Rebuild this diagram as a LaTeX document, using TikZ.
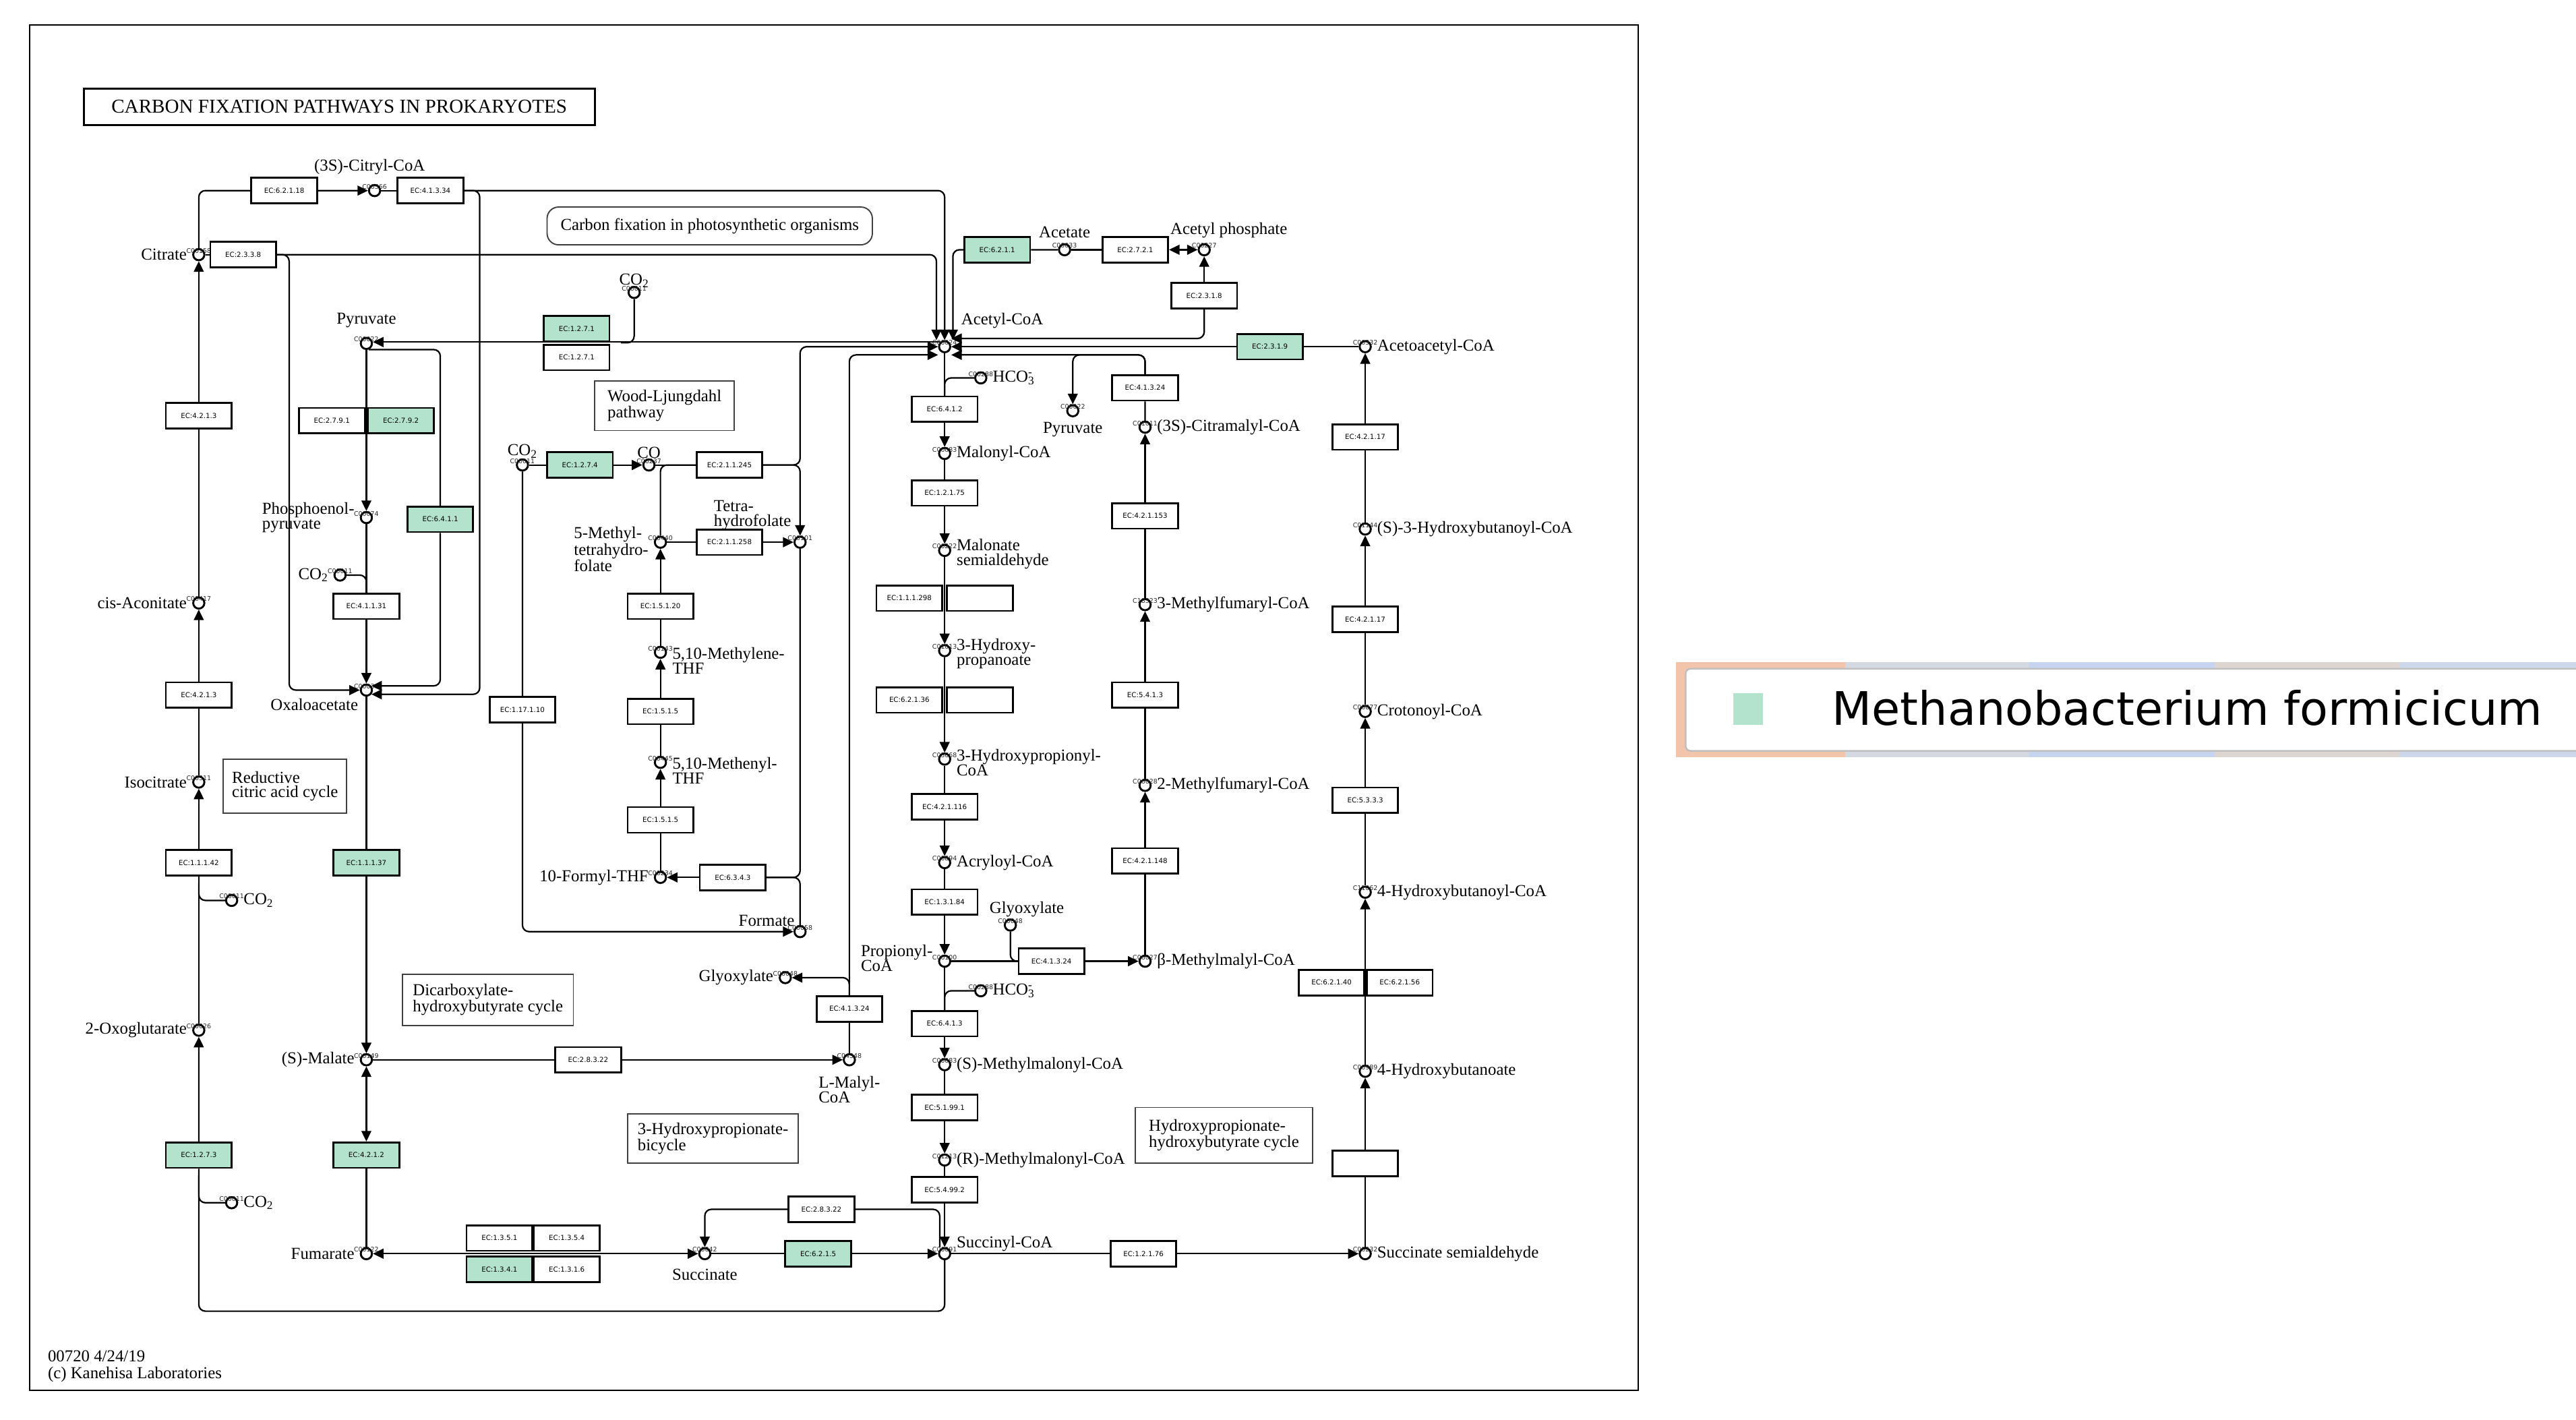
\documentclass[tikz,border=0pt]{standalone}
\usepackage{fontspec}
\setmainfont{Liberation Serif}
\newfontfamily\ecfont{DejaVu Sans}
\usetikzlibrary{arrows.meta}
\definecolor{hitgreen}{RGB}{179,227,205}
\definecolor{lorange}{RGB}{242,196,172}
\definecolor{lgray}{RGB}{212,216,224}
\definecolor{lblue}{RGB}{198,212,240}
\definecolor{lbeige}{RGB}{221,214,208}
\definecolor{lsteel}{RGB}{205,215,234}

\begin{document}
\begin{tikzpicture}[x=0.5mm,y=-0.5mm,
    >={Triangle[length=3.2mm,width=3mm]},
    rxn/.style={line width=1.3pt,rounded corners=2mm},
    cno/.style={font=\ecfont\fontsize{5.5}{6}\selectfont,text=black!85,inner sep=0pt,label distance=-1.6mm},
    cpd/.style={circle,draw,line width=1.7pt,fill=white,inner sep=0pt,minimum size=3.4mm,label={[cno]above:#1}},
    lbl/.style={font=\fontsize{14.5}{13}\selectfont,align=left,inner sep=0pt,label distance=1.6mm},
    enz/.style={draw,line width=1.6pt,fill=white,inner sep=0pt,minimum width=20mm,minimum height=7.75mm,font=\ecfont\fontsize{6}{7}\selectfont},
    hit/.style={enz,fill=hitgreen},
    mapbox/.style={draw=black!75,line width=1.1pt,align=left,inner sep=0pt,font=\fontsize{14.5}{12.5}\selectfont}]
    \path[use as bounding box,fill=white] (0,0) rectangle (1568,864);
    \draw[line width=1.2pt] (18,15) rectangle (997,846);
    \node[draw,line width=1.6pt,minimum width=155.5mm,minimum height=11mm,font=\fontsize{17}{20}\selectfont] (title) at (206.5,65) {CARBON FIXATION PATHWAYS IN PROKARYOTES};
    \node[lbl,anchor=north west,font=\fontsize{14.5}{14.2}\selectfont] (copy) at (29,822) {00720 4/24/19\\(c) Kanehisa Laboratories};

    \node[mapbox,rounded corners=3.5mm,minimum width=99mm,minimum height=11.5mm] (mphoto) at (432,137.5) {Carbon fixation in photosynthetic organisms};
    \node[mapbox,minimum width=42.5mm,minimum height=15mm] (mwl) at (404.5,247) {Wood-Ljungdahl\\pathway};
    \node[mapbox,minimum width=37.5mm,minimum height=16.5mm] (mrtca) at (173.5,478.5) {Reductive\\citric acid cycle};
    \node[mapbox,minimum width=52mm,minimum height=15.5mm] (mdc) at (297,608.5) {Dicarboxylate-\\hydroxybutyrate cycle};
    \node[mapbox,minimum width=52mm,minimum height=15mm] (mhpb) at (434,693) {3-Hydroxypropionate-\\bicycle};
    \node[mapbox,minimum width=54mm,minimum height=17mm] (mhphb) at (745,691) {Hydroxypropionate-\\hydroxybutyrate cycle};

    \node[cpd=C00158,label={[lbl]left:Citrate}] (cit) at (121,155) {};
    \node[cpd=C00566,label={[lbl,label distance=2.8mm,xshift=-1.5mm]above:(3S)-Citryl-CoA}] (ccoa) at (228,116) {};
    \node[cpd=C00417,label={[lbl]left:cis-Aconitate}] (cacn) at (121,367) {};
    \node[cpd=C00311,label={[lbl]left:Isocitrate}] (icit) at (121,476) {};
    \node[cpd=C00026,label={[lbl]left:2-Oxoglutarate}] (oxg) at (121,627) {};
    \node[cpd=C00011,label={[lbl]right:CO\textsubscript{2}}] (co2a) at (141,548) {};
    \node[cpd=C00011,label={[lbl]right:CO\textsubscript{2}}] (co2b) at (141,732) {};
    \node[cpd=C00022,label={[lbl,label distance=2.8mm]above:Pyruvate}] (pyr) at (223,209) {};
    \node[cpd=C00074,label={[lbl]left:Phosphoenol-\\pyruvate}] (pep) at (223,315) {};
    \node[cpd=C00011,label={[lbl]left:CO\textsubscript{2}}] (co2c) at (207,350) {};
    \node[cpd=C00036,label={[lbl,label distance=1.5mm]below left:Oxaloacetate}] (oaa) at (223,420) {};
    \node[cpd=C00149,label={[lbl]left:(S)-Malate}] (mal) at (223,645) {};
    \node[cpd=C00122,label={[lbl]left:Fumarate}] (fum) at (223,763) {};
    \node[cpd=C00042,label={[lbl,label distance=2.5mm]below:Succinate}] (suc) at (429,763) {};
    \node[cpd=C00091,label={[lbl,yshift=3mm]right:Succinyl-CoA}] (succoa) at (575,763) {};
    \node[cpd=C00232,label={[lbl]right:Succinate semialdehyde}] (ssa) at (831,763) {};
    \node[cpd=C00989,label={[lbl]right:4-Hydroxybutanoate}] (hb) at (831,652) {};
    \node[cpd=C11062,label={[lbl]right:4-Hydroxybutanoyl-CoA}] (hbcoa) at (831,543) {};
    \node[cpd=C00877,label={[lbl]right:Crotonoyl-CoA}] (crot) at (831,433) {};
    \node[cpd=C01144,label={[lbl]right:(S)-3-Hydroxybutanoyl-CoA}] (hbut) at (831,322) {};
    \node[cpd=C00332,label={[lbl]right:Acetoacetyl-CoA}] (aacoa) at (831,211) {};
    \node[cpd=C00024,label={[lbl,yshift=8mm,label distance=3mm]right:Acetyl-CoA}] (acoa) at (575,211) {};
    \node[cpd=C00033,label={[lbl,label distance=1.5mm]above:Acetate}] (acet) at (648,152) {};
    \node[cpd=C00227,label={[lbl,label distance=1.5mm,xshift=7.5mm]above:Acetyl phosphate}] (acp) at (733,152) {};
    \node[cpd=C00288,label={[lbl]right:HCO\rlap{\textsubscript{3}}\textsuperscript{-}}] (hco3a) at (597,230) {};
    \node[cpd=C00083,label={[lbl]right:Malonyl-CoA}] (malcoa) at (575,276) {};
    \node[cpd=C00222,label={[lbl,yshift=-1mm]right:Malonate\\semialdehyde}] (msa) at (575,335) {};
    \node[cpd=C01013,label={[lbl,yshift=-1mm]right:3-Hydroxy-\\propanoate}] (hp) at (575,396) {};
    \node[cpd=C05668,label={[lbl,yshift=-1mm]right:3-Hydroxypropionyl-\\CoA}] (hpcoa) at (575,462) {};
    \node[cpd=C00894,label={[lbl]right:Acryloyl-CoA}] (acrcoa) at (575,525) {};
    \node[cpd=C00100,label={[lbl,yshift=1mm]left:Propionyl-\\CoA}] (pcoa) at (575,585) {};
    \node[cpd=C00288,label={[lbl]right:HCO\rlap{\textsubscript{3}}\textsuperscript{-}}] (hco3b) at (597,603) {};
    \node[cpd=C00683,label={[lbl]right:(S)-Methylmalonyl-CoA}] (smm) at (575,648) {};
    \node[cpd=C01213,label={[lbl]right:(R)-Methylmalonyl-CoA}] (rmm) at (575,706) {};
    \node[cpd=C00048,label={[lbl,label distance=0.5mm,xshift=5mm]above:Glyoxylate}] (glxa) at (615,563) {};
    \node[cpd=C06027,label={[lbl]right:β-Methylmalyl-CoA}] (bmm) at (697,585) {};
    \node[cpd=C06028,label={[lbl]right:2-Methylfumaryl-CoA}] (mfum) at (697,478) {};
    \node[cpd=C18323,label={[lbl]right:3-Methylfumaryl-CoA}] (mfum3) at (697,368) {};
    \node[cpd=C01011,label={[lbl]right:(3S)-Citramalyl-CoA}] (cmal) at (697,260) {};
    \node[cpd=C00022,label={[lbl,label distance=1.5mm]below:Pyruvate}] (pyrb) at (653,250) {};
    \node[cpd=C00011,label={[lbl,label distance=-0.5mm]above:CO\textsubscript{2}}] (co2d) at (386,178) {};
    \node[cpd=C00011,label={[lbl,label distance=0mm]above:CO\textsubscript{2}}] (co2e) at (318,283) {};
    \node[cpd=C00237,label={[lbl,label distance=0mm]above:CO}] (co) at (395,283) {};
    \node[cpd=C00440,label={[lbl,yshift=-2.2mm]left:5-Methyl-\\tetrahydro-\\folate}] (mthf) at (402,330) {};
    \node[cpd=C00101,label={[lbl,label distance=3.2mm,xshift=1mm]above left:Tetra-\\hydrofolate}] (thf) at (487,330) {};
    \node[cpd=C00143,label={[lbl,yshift=-2.5mm]right:{5,10-Methylene-\\THF}}] (methf) at (402,397) {};
    \node[cpd=C00445,label={[lbl,yshift=-2.5mm]right:{5,10-Methenyl-\\THF}}] (menthf) at (402,464) {};
    \node[cpd=C00234,label={[lbl]left:10-Formyl-THF}] (fthf) at (402,534) {};
    \node[cpd=C00058,label={[lbl,label distance=0.3mm]above left:Formate}] (form) at (487,567) {};
    \node[cpd=C00048,label={[lbl]left:Glyoxylate}] (glxb) at (478,595) {};
    \node[cpd=C04348,label={[lbl,label distance=3mm]below:L-Malyl-\\CoA}] (lmcoa) at (517,645) {};

    \node[enz] (e62118) at (173,116) {EC:6.2.1.18};
    \node[enz] (e41334) at (262,116) {EC:4.1.3.34};
    \node[enz] (e2338) at (148,155) {EC:2.3.3.8};
    \node[enz] (e4213a) at (121,253) {EC:4.2.1.3};
    \node[enz] (e4213b) at (121,423) {EC:4.2.1.3};
    \node[enz] (e11142) at (121,525) {EC:1.1.1.42};
    \node[hit] (e1273) at (121,703) {EC:1.2.7.3};
    \node[hit] (e1271a) at (351,200) {EC:1.2.7.1};
    \node[enz] (e1271b) at (351,217.5) {EC:1.2.7.1};
    \node[enz] (e2791) at (202,256) {EC:2.7.9.1};
    \node[hit] (e2792) at (244,256) {EC:2.7.9.2};
    \node[hit] (e6411) at (268,316) {EC:6.4.1.1};
    \node[enz] (e41131) at (223,369) {EC:4.1.1.31};
    \node[hit] (e11137) at (223,525) {EC:1.1.1.37};
    \node[hit] (e4212) at (223,703) {EC:4.2.1.2};
    \node[enz] (e28322a) at (358,645) {EC:2.8.3.22};
    \node[enz] (e1351) at (304,753.5) {EC:1.3.5.1};
    \node[enz] (e1354) at (345,753.5) {EC:1.3.5.4};
    \node[hit] (e1341) at (304,772.5) {EC:1.3.4.1};
    \node[enz] (e1316) at (345,772.5) {EC:1.3.1.6};
    \node[hit] (e6215) at (498,763) {EC:6.2.1.5};
    \node[enz] (e28322b) at (500,736) {EC:2.8.3.22};
    \node[enz] (e12176) at (696,763) {EC:1.2.1.76};
    \node[enz] (e4hb) at (831,708) {};
    \node[enz] (e62140) at (810.5,598) {EC:6.2.1.40};
    \node[enz] (e62156) at (852,598) {EC:6.2.1.56};
    \node[enz] (e5333) at (831,487) {EC:5.3.3.3};
    \node[enz] (e42117a) at (831,377) {EC:4.2.1.17};
    \node[enz] (e42117b) at (831,266) {EC:4.2.1.17};
    \node[hit] (e2319) at (773,211) {EC:2.3.1.9};
    \node[enz] (e2318) at (733,180) {EC:2.3.1.8};
    \node[enz] (e2721) at (691,152) {EC:2.7.2.1};
    \node[hit] (e6211) at (607,152) {EC:6.2.1.1};
    \node[enz] (e6412) at (575,249) {EC:6.4.1.2};
    \node[enz] (e12175) at (575,300) {EC:1.2.1.75};
    \node[enz] (e111298) at (553.5,364) {EC:1.1.1.298};
    \node[enz] (e111298x) at (596.5,364) {};
    \node[enz] (e62136) at (553.5,426) {EC:6.2.1.36};
    \node[enz] (e62136x) at (596.5,426) {};
    \node[enz] (e421116) at (575,491) {EC:4.2.1.116};
    \node[enz] (e13184) at (575,549) {EC:1.3.1.84};
    \node[enz] (e6413) at (575,623) {EC:6.4.1.3};
    \node[enz] (e51991) at (575,674) {EC:5.1.99.1};
    \node[enz] (e54992) at (575,724) {EC:5.4.99.2};
    \node[enz] (e41324a) at (697,236) {EC:4.1.3.24};
    \node[enz] (e421153) at (697,314) {EC:4.2.1.153};
    \node[enz] (e5413) at (697,423) {EC:5.4.1.3};
    \node[enz] (e421148) at (697,524) {EC:4.2.1.148};
    \node[enz] (e41324b) at (640,585) {EC:4.1.3.24};
    \node[enz] (e41324c) at (517,614) {EC:4.1.3.24};
    \node[hit] (e1274) at (353,283) {EC:1.2.7.4};
    \node[enz] (e211245) at (444,283) {EC:2.1.1.245};
    \node[enz] (e211258) at (444,330) {EC:2.1.1.258};
    \node[enz] (e15120) at (402,369) {EC:1.5.1.20};
    \node[enz] (e1515a) at (402,433) {EC:1.5.1.5};
    \node[enz] (e1515b) at (402,499) {EC:1.5.1.5};
    \node[enz] (e6343) at (446,534) {EC:6.3.4.3};
    \node[enz] (e117110) at (318,432) {EC:1.17.1.10};

    \coordinate (loopsw) at (121,798);
    \coordinate (xr) at (292,300);
    \coordinate (xl) at (176,300);
    \coordinate (co2dj) at (378,208.6);
    \coordinate (wlx) at (487,260);
    \coordinate (pyrj) at (653,216);

    \draw[rxn,->] (succoa) |- (loopsw) -- (e1273) -- (oxg);
    \draw[rxn] (e1273.south) ++(0,4) |- (co2b);
    \draw[rxn,->] (oxg) -- (e11142) -- (icit);
    \draw[rxn] (e11142.south) ++(0,4) |- (co2a);
    \draw[rxn,->] (icit) -- (e4213b) -- (cacn);
    \draw[rxn,->] (cacn) -- (e4213a) -- (cit);
    \draw[rxn,->] (cit) |- (e62118) -- (ccoa);
    \draw[rxn] (ccoa) -- (e41334);
    \draw[rxn,->] (e41334) -| (acoa.north);
    \draw[rxn,->] (e41334) -| (xr) |- (oaa.-40);
    \draw[rxn] (cit) -- (e2338);
    \draw[rxn,->] (e2338) -| ([xshift=-2.5mm]acoa.north);
    \draw[rxn,->] (e2338) -| (xl) |- (oaa.west);

    \draw[rxn,->] (acoa.north west) -- (acoa.north west -| pyr.east);
    \draw[rxn] (co2d) |- (co2dj);
    \draw[rxn,->] (pyr) -- (pep);
    \draw[rxn,->] (pyr.-70) -| (e6411) |- (oaa.40);
    \draw[rxn,->] (pep) -- (e41131) -- (oaa);
    \draw[rxn] (co2c) -| (e41131);
    \draw[rxn,->] (oaa) -- (e11137) -- (mal);
    \draw[rxn,<->] (fum) -- (e4212) -- (mal);
    \draw[rxn,<->] (fum) -- (suc);
    \draw[rxn,->] (suc) -- (e6215) -- (succoa);
    \draw[rxn,->] ([xshift=-1.5mm]succoa.north) |- (e28322b) -| (suc);
    \draw[rxn,->] (mal) -- (e28322a) -- (lmcoa);
    \draw[rxn,->] (lmcoa) -- (e41324c) |- ([yshift=-2.5mm]acoa.west);
    \draw[rxn,->] (e41324c) |- (glxb);
    \draw[rxn,->] (succoa) -- (e12176) -- (ssa);

    \draw[rxn,->] (co2e) -- (e1274) -- (co);
    \draw[rxn] (co) -- (e211245);
    \draw[rxn] (mthf) |- (e211245);
    \draw[rxn,->] (e211245) -| (thf);
    \draw[rxn,->] (e211245) -| (wlx) |- (acoa.west);
    \draw[rxn,->] (mthf) -- (e211258) -- (thf);
    \draw[rxn,->] (methf) -- (e15120) -- (mthf);
    \draw[rxn,->] (menthf) -- (e1515a) -- (methf);
    \draw[rxn,->] (fthf) -- (e1515b) -- (menthf);
    \draw[rxn] (thf) |- (e6343);
    \draw[rxn] (form) |- (e6343);
    \draw[rxn,->] (e6343) -- (fthf);
    \draw[rxn,->] (co2e) -- (e117110) |- (form);

    \draw[rxn,->] (acoa) -- (e6412) -- (malcoa);
    \draw[rxn] (hco3a) -| (e6412);
    \draw[rxn,->] (malcoa) -- (e12175) -- (msa);
    \draw[rxn,->] (msa) -- (hp);
    \draw[rxn,->] (hp) -- (hpcoa);
    \draw[rxn,->] (hpcoa) -- (e421116) -- (acrcoa);
    \draw[rxn,->] (acrcoa) -- (e13184) -- (pcoa);
    \draw[rxn,->] (pcoa) -- (e6413) -- (smm);
    \draw[rxn] (hco3b) -| (e6413);
    \draw[rxn,->] (smm) -- (e51991) -- (rmm);
    \draw[rxn,->] (rmm) -- (e54992) -- (succoa);
    \draw[rxn,->] (pcoa) -- (e41324b) -- (bmm);
    \draw[rxn] (glxa) |- (e41324b);
    \draw[rxn,->] (bmm) -- (e421148) -- (mfum);
    \draw[rxn,->] (mfum) -- (e5413) -- (mfum3);
    \draw[rxn,->] (mfum3) -- (e421153) -- (cmal);
    \draw[rxn,->] (cmal) -- (e41324a) |- ([yshift=-2.5mm]acoa.east);
    \draw[rxn,->] (e41324a) |- (pyrj) -- (pyrb);

    \draw[rxn,->] (acet) -- (e6211) -| ([xshift=2.5mm]acoa.north);
    \draw[rxn,<->] (acet) -- (e2721) -- (acp);
    \draw[rxn,<-] ([yshift=2.5mm]acoa.east) -| (e2318);
    \draw[rxn,->] (e2318) -- (acp);
    \draw[rxn,->] (aacoa) -- (e2319) -- (acoa);
    \draw[rxn,->] (ssa) -- (e4hb) -- (hb);
    \draw[rxn,->] (hb) -- (hbcoa);
    \draw[rxn,->] (hbcoa) -- (e5333) -- (crot);
    \draw[rxn,->] (crot) -- (e42117a) -- (hbut);
    \draw[rxn,->] (hbut) -- (e42117b) -- (aacoa);

    \fill[lorange] (1020,403) rectangle (1123,461);
    \fill[lgray] (1123,403) rectangle (1235,461);
    \fill[lblue] (1235,403) rectangle (1348,461);
    \fill[lbeige] (1348,403) rectangle (1461,461);
    \fill[lsteel] (1461,403) rectangle (1568,461);
    \draw[draw=black!25,line width=1.5pt,fill=white,rounded corners=1.5mm] (1026,407) rectangle (1580,457);
    \fill[hitgreen] (1055,422) rectangle (1073,441);
    \node[font=\ecfont\fontsize{40}{48}\selectfont,anchor=west,inner sep=0pt] (legtext) at (1115,431) {Methanobacterium formicicum};
\end{tikzpicture}
\end{document}
